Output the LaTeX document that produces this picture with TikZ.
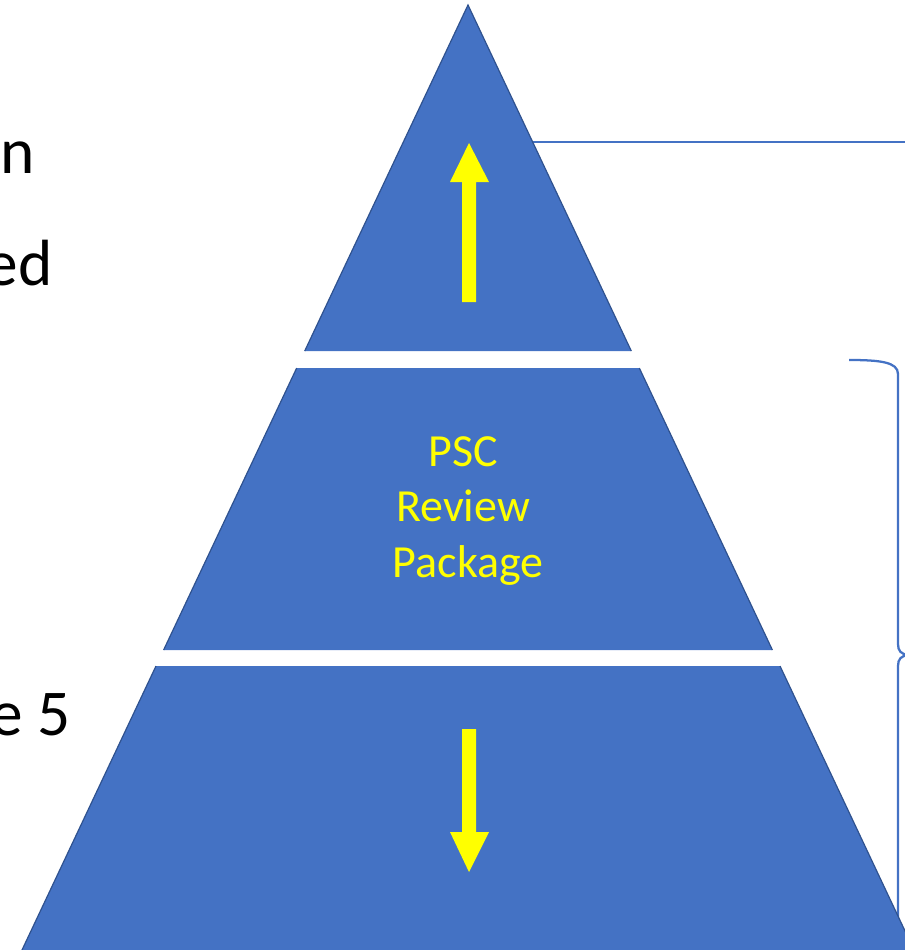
\documentclass[tikz,border=0pt]{standalone}
\usepackage{fontspec}
\setmainfont{Carlito}
\definecolor{layerblue}{HTML}{4472C4}
\definecolor{edgeblue}{HTML}{2F528F}
\definecolor{markyellow}{HTML}{FFFF00}
\tikzset{
  layer/.style={fill=layerblue, draw=none},
  layeredge/.style={draw=edgeblue, line width=0.9pt},
  bracket/.style={draw=layerblue, line width=1.7pt},
  bigarrow/.style={fill=markyellow, draw=none},
  sidetext/.style={font=\fontsize{49}{59}\selectfont, text=black, inner sep=0pt, anchor=base east},
  layertext/.style={font=\fontsize{34.5}{41.5}\selectfont, text=markyellow, align=center, inner sep=0pt}
}
\begin{document}
\begin{tikzpicture}[x=0.75pt,y=-0.75pt]
\useasboundingbox (0,0) rectangle (905,950);
\clip (0,0) rectangle (905,950);

% braces and leader line (behind the pyramid)
\coordinate (leadstart) at (533,142);
\coordinate (leadend) at (910,142);
\draw[bracket] (leadstart) -- (leadend);
\coordinate (bracetop) at (849,360);
\coordinate (bracetip) at (908,655);
\coordinate (bracebottom) at (898,960);
\draw[bracket] (bracetop) .. controls (880,360) and (898,362) .. (898,374)
  -- (898,644) .. controls (898,651) and (901,654) .. (bracetip)
  .. controls (901,656) and (898,659) .. (898,666) -- (bracebottom);

% pyramid layers: half width = 0.472*(y-5) about x = 468
\path[layer] (468,5) -- (631.3,351) -- (304.7,351) -- cycle;
\path[layer] (296.7,368) -- (639.3,368) -- (772.4,650) -- (163.6,650) -- cycle;
\path[layer] (156,666) -- (780,666) -- (914,950) -- (22,950) -- cycle;
% darker slanted sides
\draw[layeredge] (304.7,351) -- (468,5) -- (631.3,351);
\draw[layeredge] (163.6,650) -- (296.7,368);
\draw[layeredge] (639.3,368) -- (772.4,650);
\draw[layeredge] (22,950) -- (156,666);
\draw[layeredge] (780,666) -- (914,950);

% up arrow in the top layer
\path[bigarrow] (462,302) -- (476,302) -- (476,182) -- (489,182) -- (469,143)
  -- (450,182) -- (462,182) -- cycle;
% down arrow in the bottom layer
\path[bigarrow] (462,729) -- (476,729) -- (476,832) -- (489,832) -- (469,872)
  -- (450,832) -- (462,832) -- cycle;

% middle layer label
\node[layertext] (psc) at (463,511) {PSC\\Review\\\ Package};

% side texts
\node[sidetext] (sidein) at (35,173) {in};
\node[sidetext] (sideed) at (53,285) {ed};
\node[sidetext] (sidefive) at (71,735) {e 5};
\end{tikzpicture}
\end{document}
